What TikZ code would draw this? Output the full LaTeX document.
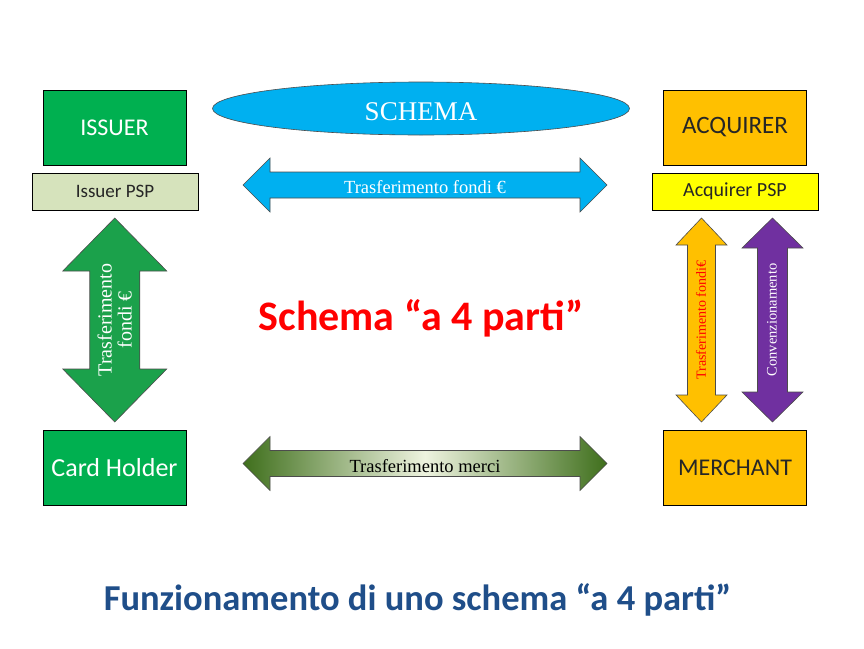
\documentclass[tikz,border=0pt]{standalone}
\usepackage{fontspec}
\setmainfont{Liberation Serif}
\newfontfamily\calfont{Carlito}
\usetikzlibrary{positioning,calc,shapes.geometric}
\definecolor{boxgreen}{HTML}{00B050}
\definecolor{pspgreen}{HTML}{D6E3BC}
\definecolor{acqorange}{HTML}{FFC000}
\definecolor{pspyellow}{HTML}{FFFF00}
\definecolor{schemablue}{HTML}{00B0F0}
\definecolor{arrgreen}{HTML}{1BA14B}
\definecolor{arrpurple}{HTML}{7030A0}
\definecolor{merdark}{HTML}{3F6F1C}
\definecolor{merlight}{HTML}{EEF3DF}
\definecolor{titleblue}{HTML}{1F4E89}
\newcommand{\fsz}[1]{\fontsize{#1}{#1}\selectfont}
% block double arrow round the origin: style, half length, head half width, shaft half width, head length
\newcommand{\blockarrow}[5]{%
  \path[#1] (-#2,0) -- ++(#5,-#3) -- ++(0,{#3-#4}) -- ({#2-#5},-#4) -- ++(0,{#4-#3})
    -- (#2,0) -- ({#2-#5},#3) -- ++(0,{#4-#3}) -- ({-#2+#5},#4) -- ++(0,{#3-#4}) -- cycle;}

\begin{document}
\begin{tikzpicture}[x=1pt,y=-1pt,
  actor/.style={rectangle,draw=black,line width=0.8pt,minimum width=143pt,minimum height=75pt,inner sep=0pt,font=\calfont\fsz{24}},
  pspbox/.style={rectangle,draw=black,line width=0.8pt,minimum width=166pt,minimum height=37pt,inner sep=0pt,font=\calfont\fsz{19},text=black!85},
  flow/.style={draw=black!70,line width=0.6pt},
  flowlabel/.style={inner sep=0pt}]
\fill[white] (0,0) rectangle (864,648);

% the four parties
\node[actor,fill=boxgreen,text=white] (issuer) at (114.5,127.5) {ISSUER};
\node[pspbox,fill=pspgreen] (issuerpsp) at (115,191.5) {Issuer PSP};
\node[actor,fill=acqorange,text=black!85,font=\calfont\fsz{25}] (acquirer) at (735,127.5) {ACQUIRER};
\node[pspbox,fill=pspyellow,font=\calfont\fsz{20}] (acqpsp) at (735,191.5) {Acquirer PSP};
\node[actor,fill=boxgreen,text=white,font=\calfont\fsz{26}] (holder) at (114.5,467.5) {Card Holder};
\node[actor,fill=acqorange,text=black!85] (merchant) at (735,467.5) {MERCHANT};

% circuit
\node[ellipse,draw=black!70,line width=0.6pt,fill=schemablue,text=white,minimum width=417pt,minimum height=53pt,inner sep=0pt,text height=23pt,text depth=0pt,font=\fsz{27}] (schema) at (421,108.5) {SCHEMA};

% flows
\begin{scope}[shift={(425,185)}]
  \blockarrow{flow,fill=schemablue}{182}{27}{13}{27}
\end{scope}
\node[flowlabel,text=white,font=\fsz{18.5}] (fondi) at (425,187.5) {Trasferimento fondi \texteuro};

\begin{scope}[shift={(425,463.5)}]
  \blockarrow{flow,left color=merdark,right color=merdark,middle color=merlight}{182}{27}{13}{27}
\end{scope}
\node[flowlabel,font=\fsz{18.5}] (merci) at (425,466) {Trasferimento merci};

\begin{scope}[shift={($(issuerpsp.south)!0.5!(holder.north)$)},rotate=90]
  \blockarrow{flow,fill=arrgreen}{102}{52}{25}{53}
\end{scope}
\node[flowlabel,rotate=90,text=white,align=center,font=\fsz{20}] (fondiissuer) at ($(issuerpsp.south)!0.5!(holder.north)$) {Trasferimento\\fondi \texteuro};

\begin{scope}[shift={(701.5,320)},rotate=90]
  \blockarrow{flow,fill=acqorange}{102}{25.5}{14}{27}
\end{scope}
\node[flowlabel,rotate=90,text=red,font=\fsz{14}] (fondiacq) at (701,320) {Trasferimento fondi\texteuro};

\begin{scope}[shift={(772.5,320)},rotate=90]
  \blockarrow{flow,fill=arrpurple}{102}{30.5}{15}{30}
\end{scope}
\node[flowlabel,rotate=90,text=white,font=\fsz{14.5}] (conv) at (772,320) {Convenzionamento};

% titles
\node[text=red,font=\calfont\bfseries\fsz{42}] (parti) at (421,318) {Schema “a 4 parti”};
\node[text=titleblue,font=\calfont\bfseries\fsz{36.5}] (titolo) at (417.5,600) {Funzionamento di uno schema “a 4 parti”};
\end{tikzpicture}
\end{document}
